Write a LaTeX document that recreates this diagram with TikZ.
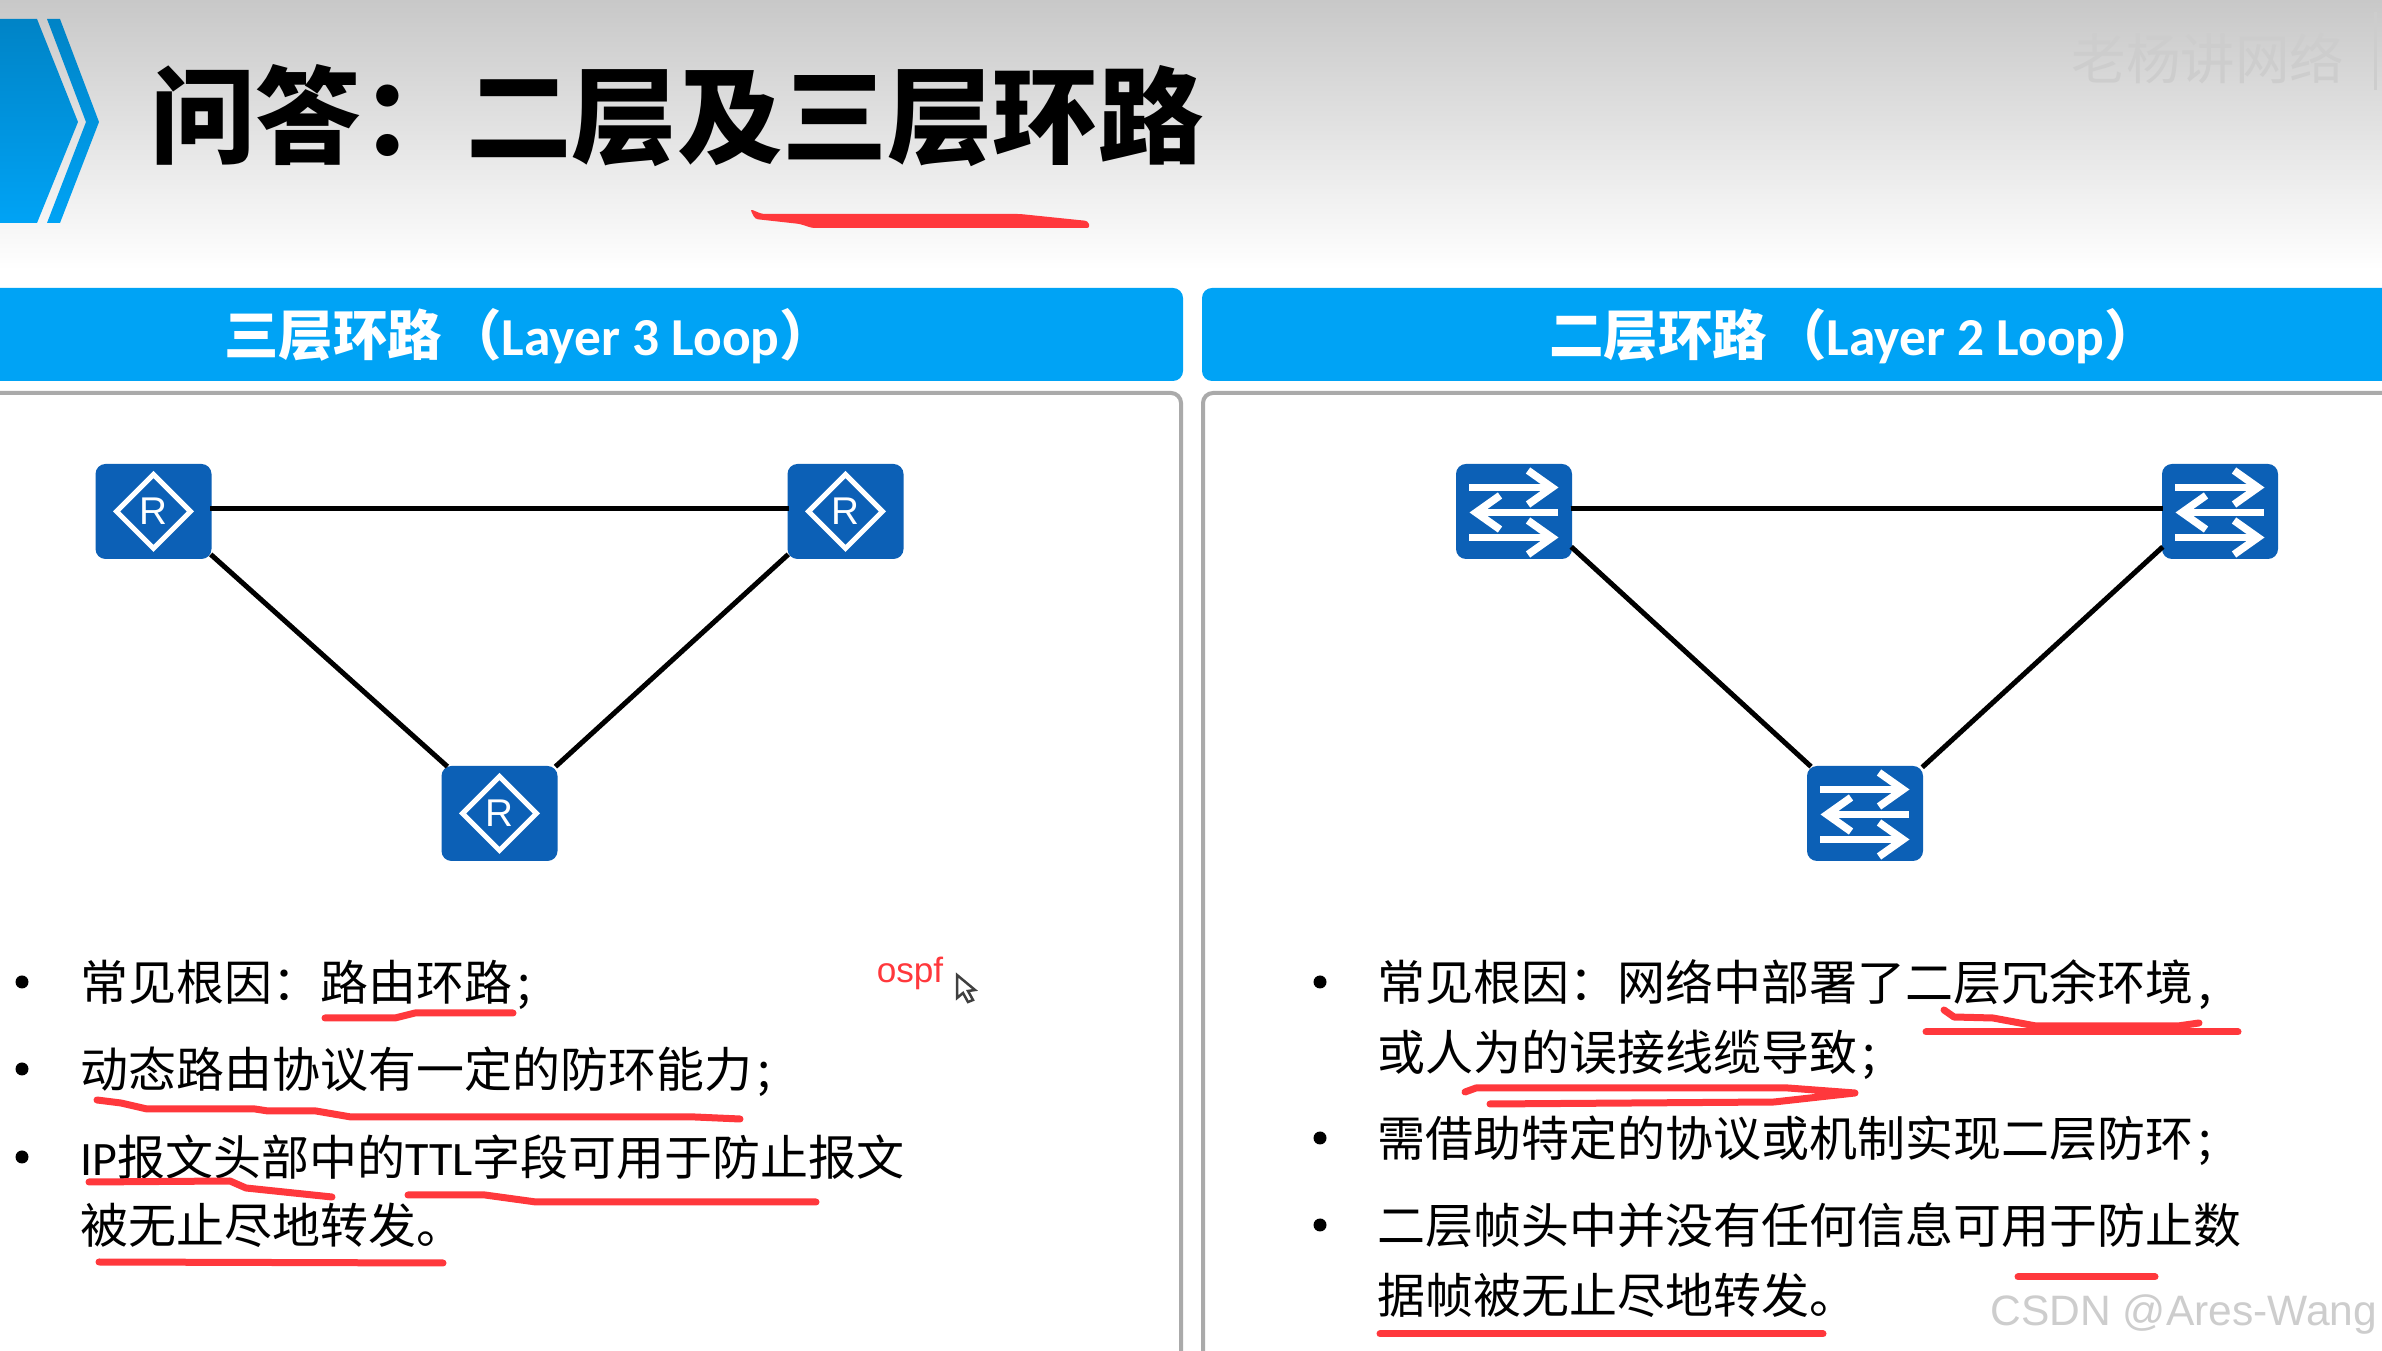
\documentclass[tikz,border=0pt]{standalone}
\usepackage{fontspec}
\setmainfont{Noto Sans CJK SC}
\newfontfamily\latinfont{Carlito}
\newfontfamily\markfont{Liberation Sans}
\usetikzlibrary{positioning,shapes.geometric,calc}
\definecolor{barblue}{RGB}{0, 163, 245}
\definecolor{chevblue}{RGB}{0, 146, 220}
\definecolor{iconblue}{RGB}{12, 96, 182}
\definecolor{markred}{RGB}{255, 56, 60}
\definecolor{panelgray}{RGB}{170, 170, 170}
\definecolor{topgray}{RGB}{200, 200, 200}
\definecolor{waterlight}{RGB}{205, 205, 205}
\tikzset{
  netbox/.style={rectangle, rounded corners=1mm, fill=iconblue, draw=none, minimum width=11.6mm, minimum height=9.5mm, inner sep=0pt},
  netlink/.style={black, line width=0.5mm, shorten >=-0.2mm, shorten <=-0.2mm},
  iconarrow/.style={white, line width=0.75mm},
  redmark/.style={markred, line width=0.7mm, line cap=round, line join=round},
  bulletdot/.style={circle, fill=black, minimum size=1.3mm, inner sep=0pt},
  bodytext/.style={anchor=base west, inner sep=0pt, font=\fontsize{13.65pt}{16pt}\selectfont},
  barlabel/.style={anchor=base, inner sep=0pt, text=white, font=\fontsize{15.5pt}{18pt}\selectfont\bfseries},
}
\newcommand{\routericon}[1]{
  \node[diamond, draw=white, line width=0.5mm, minimum size=7.6mm, inner sep=0pt, text=white, font=\fontsize{11pt}{11pt}\selectfont\markfont] (#1r) at (#1) {R};
}
\newcommand{\switchicon}[1]{
  \begin{scope}[shift={(#1)}]
    \draw[iconarrow] (-45,-24) -- (36,-24);
    \draw[iconarrow] (14,-41) -- (38,-24) -- (14,-7);
    \draw[iconarrow] (44,1) -- (-36,1);
    \draw[iconarrow] (-14,-16) -- (-38,1) -- (-14,18);
    \draw[iconarrow] (-45,26) -- (36,26);
    \draw[iconarrow] (14,9) -- (38,26) -- (14,43);
  \end{scope}
}
\newcommand{\barlatin}[1]{{\fontsize{15.2pt}{18pt}\selectfont\latinfont #1}}
\newcommand{\tailkern}{\hspace{1.5pt}}
\begin{document}
\begin{tikzpicture}[x=0.1mm, y=-0.1mm]
\useasboundingbox (0,0) rectangle (2382,1351);
\clip (0,0) rectangle (2382,1351);
\fill[white] (0,0) rectangle (2382,1351);
\shade[top color=topgray, bottom color=white] (0,0) rectangle (2382,270);
\shade[top color=chevblue!90!black, bottom color=barblue] (0,19) -- (37,19) -- (78,122) -- (37,223) -- (0,223) -- cycle;
\shade[top color=chevblue!90!black, bottom color=barblue] (47,19) -- (60,19) -- (99,122) -- (60,223) -- (47,223) -- (86,122) -- cycle;
\node[inner sep=0pt, font=\fontsize{29.95pt}{34pt}\selectfont\bfseries] (title) at (677,116) {问答：二层及三层环路};
\fill[markred, rounded corners=0.3mm] (750,209) -- (762,214) -- (1020,214) -- (1088,221) -- (1090,228) -- (812,228) -- (800,224) -- (755,219) -- cycle;
\fill[barblue, rounded corners=1mm] (-20,288) rectangle (1183,381);
\fill[barblue, rounded corners=1mm] (1202,288) rectangle (2420,381);
\node[barlabel] (leftbar) at (529,356) {三层环路\hspace{1.5pt}（\barlatin{Layer 3 Loop}）};
\node[barlabel] (rightbar) at (1854,356) {二层环路\hspace{1.5pt}（\barlatin{Layer 2 Loop}）};
\draw[panelgray, line width=0.4mm, rounded corners=1mm] (-20,1400) -- (-20,393) -- (1181,393) -- (1181,1400);
\draw[panelgray, line width=0.4mm, rounded corners=1mm] (1203,1400) -- (1203,393) -- (2420,393);
\node[netbox] (routerA) at (153.5,511.5) {};
\node[netbox] (routerB) at (845.5,511.5) {};
\node[netbox] (routerC) at (499.5,813.5) {};
\foreach \r in {routerA,routerB,routerC}
    \routericon{\r}
\draw[netlink] ([yshift=0.25mm]routerA.east) -- ([yshift=0.25mm]routerB.west);
\draw[netlink] (routerA.-37) -- (routerC.138);
\draw[netlink] (routerB.217) -- (routerC.40);
\node[netbox] (switchA) at (1514,511.5) {};
\node[netbox] (switchB) at (2220,511.5) {};
\node[netbox] (switchC) at (1865,813.5) {};
\foreach \s in {switchA,switchB,switchC}
    \switchicon{\s}
\draw[netlink] ([yshift=0.25mm]switchA.east) -- ([yshift=0.25mm]switchB.west);
\draw[netlink] (switchA.-32) -- (switchC.139);
\draw[netlink] (switchB.212) -- (switchC.39);
\foreach \y in {982,1069,1157}
    \node[bulletdot] at (22,\y) {};
\node[bodytext] (leftA) at (80,1001) {常见根因：路由环路\tailkern;};
\node[bodytext] (leftB) at (80,1088) {动态路由协议有一定的防环能力\tailkern;};
\node[bodytext] (leftC) at (80,1176) {{\latinfont IP}报文头部中的{\latinfont TTL}字段可用于防止报文};
\node[bodytext] (leftD) at (80,1244) {被无止尽地转发。};
\foreach \y in {982,1138,1225}
    \node[bulletdot] at (1320,\y) {};
\node[bodytext] (rightA) at (1377,1001) {常见根因：网络中部署了二层冗余环境\tailkern,};
\node[bodytext] (rightB) at (1377,1071) {或人为的误接线缆导致\tailkern;};
\node[bodytext] (rightC) at (1377,1157) {需借助特定的协议或机制实现二层防环\tailkern;};
\node[bodytext] (rightD) at (1377,1244) {二层帧头中并没有任何信息可用于防止数};
\node[bodytext] (rightE) at (1377,1314) {据帧被无止尽地转发。};
\draw[redmark] (325,1018) -- (395,1018) -- (415,1013) -- (513,1013);
\draw[redmark] (97,1100) -- (121,1103) -- (147,1109) -- (255,1109) -- (268,1111) -- (316,1111) -- (351,1117) -- (695,1117) -- (740,1119);
\draw[redmark] (89,1182) -- (230,1181) -- (246,1188) -- (332,1197);
\draw[redmark] (408,1195) -- (485,1195) -- (536,1202) -- (816,1202);
\draw[redmark] (99,1262) -- (443,1263);
\draw[redmark] (1944,1010) -- (1954,1017) -- (1993,1018) -- (2036,1026) -- (2178,1026) -- (2199,1023);
\draw[redmark] (1926,1032) -- (2238,1032);
\draw[redmark] (1465,1092) -- (1476,1088) -- (1788,1088) -- (1855,1093) -- (1774,1102) -- (1490,1104);
\draw[redmark] (2018,1277) -- (2155,1277);
\draw[redmark] (1380,1334) -- (1823,1334);
\node[inner sep=0pt, text=markred, font=\fontsize{10pt}{11pt}\selectfont\markfont] (ospf) at (910,973) {ospf};
\draw[black!75, fill=white, line width=0.25mm] (957,975) -- (957,998) -- (963,993) -- (968,1002) -- (973,1000) -- (968,991) -- (975,990) -- cycle;
\node[anchor=east, inner sep=0pt, text=waterlight, font=\fontsize{12.1pt}{14pt}\selectfont\markfont] (csdn) at (2378,1315) {CSDN @Ares-Wang};
\node[anchor=east, inner sep=0pt, text=waterlight, font=\fontsize{15.5pt}{18pt}\selectfont] (teacher) at (2345,58) {老杨讲网络};
\draw[waterlight, line width=0.3mm] (2375,12) -- (2375,90);
\end{tikzpicture}
\end{document}
